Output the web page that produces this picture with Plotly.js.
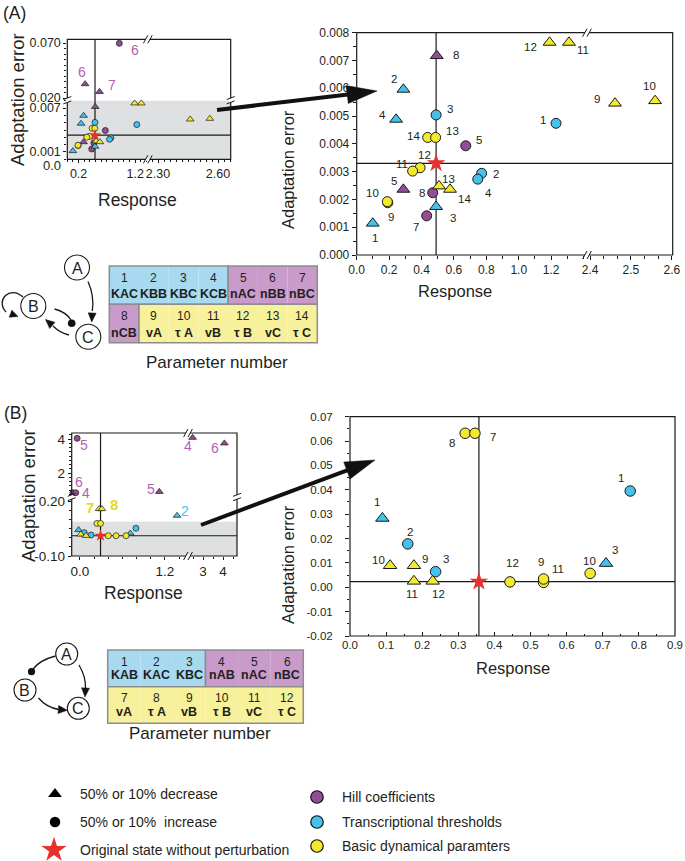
<!DOCTYPE html>
<html>
<head>
<meta charset="utf-8">
<script src="https://cdn.plot.ly/plotly-3.0.1.min.js"></script>
<style>
html, body { margin: 0; padding: 0; background: #fff; }
#plot { width: 685px; height: 861px; }
</style>
</head>
<body>
<div id="plot"></div>
<script>
// ---------- parameter tables ----------
const aParamNum  = [1, 2, 3, 4, 5, 6, 7, 8, 9, 10, 11, 12, 13, 14];
const aParamName = ["KAC", "KBB", "KBC", "KCB", "nAC", "nBB", "nBC", "nCB", "vA", "τ A", "vB", "τ B", "vC", "τ C"];
const aParamCat  = ["thr", "thr", "thr", "thr", "hill", "hill", "hill", "hill", "basic", "basic", "basic", "basic", "basic", "basic"];

const bParamNum  = [1, 2, 3, 4, 5, 6, 7, 8, 9, 10, 11, 12];
const bParamName = ["KAB", "KAC", "KBC", "nAB", "nAC", "nBC", "vA", "τ A", "vB", "τ B", "vC", "τ C"];
const bParamCat  = ["thr", "thr", "thr", "hill", "hill", "hill", "basic", "basic", "basic", "basic", "basic", "basic"];

// ---------- panel A, zoomed scatter ----------
const aParam = [8, 2, 4, 3, 14, 13, 5, 12, 11, 2, 4, 13, 14, 5, 8, 9, 10, 3, 7, 1, 1, 12, 11, 9, 10];
const aDir   = ["dec", "dec", "dec", "inc", "inc", "inc", "inc", "inc", "inc", "inc", "inc", "dec", "dec", "dec",
                "inc", "inc", "inc", "dec", "inc", "dec", "inc", "dec", "dec", "dec", "dec"];
const aResp  = [0.494, 0.288, 0.243, 0.490, 0.438, 0.487, 0.673, 0.391, 0.345, 0.771, 0.747, 0.508, 0.576, 0.288,
                0.469, 0.192, 0.189, 0.490, 0.432, 0.099, 1.230, 1.190, 1.310, 2.461, 2.559];
const aErr   = [0.00717, 0.00596, 0.00488, 0.00504, 0.00423, 0.00423, 0.00393, 0.00314, 0.00302, 0.00294, 0.00273,
                0.00248, 0.00236, 0.00236, 0.00224, 0.00188, 0.00192, 0.00174, 0.00141, 0.00114, 0.00474, 0.00765,
                0.00765, 0.00546, 0.00555];
const aOrig  = [0.49, 0.0033];   // original state (response, error)

// panel A, points only seen in the zoomed-out inset
const aOutParam = [6, 6, 7];
const aOutDir   = ["inc", "dec", "dec"];
const aOutResp  = [0.92, 0.315, 0.57];
const aOutErr   = [0.0697, 0.0327, 0.0257];

// ---------- panel B, zoomed scatter ----------
const bParam = [8, 7, 1, 1, 2, 10, 9, 3, 11, 12, 12, 11, 9, 10, 3];
const bDir   = ["inc", "inc", "inc", "dec", "inc", "dec", "dec", "inc", "dec", "dec", "inc", "inc", "inc", "inc", "dec"];
const bResp  = [0.319, 0.346, 0.776, 0.0896, 0.160, 0.111, 0.177, 0.237, 0.177, 0.229, 0.443, 0.536, 0.536, 0.665, 0.709];
const bErr   = [0.0632, 0.0632, 0.0395, 0.0283, 0.0178, 0.0089, 0.0089, 0.0064, 0.0025, 0.0025, 0.0022, 0.0020, 0.0034, 0.0057, 0.0098];
const bOrig  = [0.357, 0.0023];

// panel B, zoomed-out inset (read on its own axes)
const bOutParam = [5, 6, 4, 5, 4, 6, 2, 7, 8, 8, 7, 1, 10, 2, 9, 3, 12, 11, 10, 3, 1];
const bOutDir   = ["inc", "inc", "inc", "dec", "dec", "dec", "dec", "dec", "dec", "inc", "inc", "dec", "dec", "inc",
                   "dec", "inc", "inc", "inc", "inc", "dec", "inc"];
const bOutResp  = [-0.04, -0.10, -0.06, 1.12, 2.48, 4.07, 1.37, 0.27, 0.31, 0.24, 0.29, -0.02, 0.01, 0.06, 0.085,
                   0.155, 0.40, 0.51, 0.65, 0.71, 0.79];
const bOutErr   = [4.04, 0.84, 0.84, 0.90, 4.08, 3.75, 0.123, 0.16, 0.16, 0.08, 0.08, 0.044, 0.02, 0.029, 0.012,
                   0.016, 0.012, 0.012, 0.012, 0.025, 0.053];
const bOutShown = [true, true, true, true, true, true, true, true, true, false, false, false, false, false, false,
                   false, false, false, false, false, false];
const bOutOrig  = [0.29, 0.012];

const aXTicks = [0, 0.2, 0.4, 0.6, 0.8, 1.0, 1.2];
const bYTicks = [-0.02, -0.01, 0.00, 0.01, 0.02, 0.03, 0.04, 0.05, 0.06, 0.07];
const bYText  = ["-0.02", "-0.01", "0.00", "0.01", "0.02", "0.03", "0.04", "0.05", "0.06", "0.07"];

// ---------- legend entries ----------
const keyText  = ["50% or 10% decrease", "50% or 10%\u00a0 increase", "Original state without perturbation"];
const catNames = ["Hill coefficients", "Transcriptional thresholds", "Basic dynamical paramters"];
const catOrder = ["hill", "thr", "basic"];

// ---------- label offsets (pixels, dx right / dy down) ----------
const aShift = [[19,-1],[-9,-10],[-14,-4],[14,-6],[-14,-1],[17,-6],[13,-6],[4,-13],[-11,-7],[14,1],[11,14],[9,-7],
                [14,10],[-9,-8],[-11,0],[3,14],[-15,-9],[17,11],[-11,11],[2,15],[-13,-3],[-19,5],[14,8],[-18,-4],[-6,-15]];
const aOutShift = [[16,7],[-3,-12],[12,-7]];
const bShift = [[-13,10],[18,4],[-9,-13],[-5,-16],[2,-12],[-12,-6],[11,-7],[10,-13],[-2,13],[6,13],[3,-19],[14,-13],
                [-3,-17],[-1,-12],[9,-13]];
const bOutShift = [[7,7],[6,-11],[10,0],[-8,-3],[-5,8],[-9,5],[8,-5],[-9,-1],[12,-4]];

// ---------- helpers ----------
const W = 685, H = 861;
const px = v => v / W;
const py = v => 1 - v / H;
const domX = (a, b) => [a / W, b / W];
const domY = (top, bot) => [1 - bot / H, 1 - top / H];

const FONT = "Liberation Sans, Arial, Helvetica, sans-serif";
const INK = "#231f20";
const catFill = { hill: "#934d92", thr: "#45c1ec", basic: "#f3ea2e" };
const catText = { hill: "#b35fb1", thr: "#4cc3ec", basic: "#e4dc22" };
const cellFill = { hill: "#c99bcb", thr: "#a7daf0", basic: "#f8f19b" };
const symbolOf = { dec: "triangle-up", inc: "circle" };

const traces = [], shapes = [], annotations = [];

function addPoints(xs, ys, params, dirs, cats, xa, ya, size, keep) {
  ["hill", "thr", "basic"].forEach(c => ["dec", "inc"].forEach(d => {
    const idx = xs.map((_, i) => i).filter(i => cats[params[i] - 1] === c && dirs[i] === d && keep(i));
    if (!idx.length) return;
    traces.push({
      type: "scatter", mode: "markers", xaxis: xa, yaxis: ya, showlegend: false, cliponaxis: false, hoverinfo: "skip",
      x: idx.map(i => xs[i]), y: idx.map(i => ys[i]),
      marker: { symbol: symbolOf[d], size: d === "dec" ? size * 1.12 : size, color: catFill[c], opacity: 1,
                line: { color: "#1a1a1a", width: size > 8 ? 1 : 0.7 } }
    });
  }));
}

function addStar(pt, xa, ya, size) {
  traces.push({ type: "scatter", mode: "markers", xaxis: xa, yaxis: ya, showlegend: false, cliponaxis: false,
    hoverinfo: "skip", x: [pt[0]], y: [pt[1]], marker: { symbol: "star", size: size, color: "#e8302c", opacity: 1, line: { width: 0 } } });
}

function addLabels(xs, ys, texts, shifts, xaOf, ya, fontOf, keep) {
  let k = 0;
  xs.forEach((x, i) => {
    if (!keep(i)) return;
    const s = shifts[k++];
    annotations.push({ xref: xaOf(i), yref: ya, x: x, y: ys[i], text: String(texts[i]), showarrow: false,
      xanchor: "center", yanchor: "middle", xshift: s[0], yshift: -s[1], font: fontOf(i) });
  });
}

function text(x, y, t, size, extra) {
  annotations.push(Object.assign({ xref: "paper", yref: "paper", x: px(x), y: py(y), text: t, showarrow: false,
    xanchor: "center", yanchor: "middle", font: { family: FONT, size: size, color: INK } }, extra || {}));
}

function frame(x0, y0, x1, y1) {
  shapes.push({ type: "rect", xref: "paper", yref: "paper", x0: px(x0), y0: py(y0), x1: px(x1), y1: py(y1),
    line: { color: "#1a1a1a", width: 1.2 }, fillcolor: "rgba(0,0,0,0)", layer: "above" });
}

function line(x0, y0, x1, y1, w, col) {
  shapes.push({ type: "line", xref: "paper", yref: "paper", x0: px(x0), y0: py(y0), x1: px(x1), y1: py(y1),
    line: { color: col || "#1a1a1a", width: w }, layer: "above" });
}

function whiteBox(x0, y0, x1, y1) {
  shapes.push({ type: "rect", xref: "paper", yref: "paper", x0: px(x0), y0: py(y0), x1: px(x1), y1: py(y1),
    fillcolor: "#ffffff", line: { width: 0 }, layer: "above" });
}

function breakX(x, y) {
  whiteBox(x - 2, y - 1.5, x + 2, y + 1.5);
  [-2.2, 2.2].forEach(o => line(x + o - 2.2, y + 4, x + o + 2.2, y - 4, 1));
}

function breakY(x, y) {
  whiteBox(x - 1.5, y - 2, x + 1.5, y + 2);
  [-2.2, 2.2].forEach(o => line(x - 4, y + o + 1.5, x + 4, y + o - 1.5, 1));
}

function head(tip, from, len, half) {
  const dx = tip[0] - from[0], dy = tip[1] - from[1], L = Math.hypot(dx, dy);
  const ux = dx / L, uy = dy / L;
  const bx = tip[0] - ux * len, by = tip[1] - uy * len;
  const p1 = [bx - uy * half, by + ux * half], p2 = [bx + uy * half, by - ux * half];
  shapes.push({ type: "path", xref: "paper", yref: "paper", layer: "above",
    path: `M${px(tip[0])},${py(tip[1])} L${px(p1[0])},${py(p1[1])} L${px(p2[0])},${py(p2[1])} Z`,
    fillcolor: "#111", line: { color: "#111", width: 0.5 } });
  return [bx, by];
}

function bigArrow(tail, tip) {
  const base = head(tip, tail, 30, 9);
  line(tail[0], tail[1], base[0] + (tip[0] - base[0]) * 0.1, base[1] + (tip[1] - base[1]) * 0.1, 4, "#111");
}

function curve(pts, w) {
  const p = pts.map(q => `${px(q[0])},${py(q[1])}`);
  const path = pts.length === 3 ? `M${p[0]} Q${p[1]} ${p[2]}` : `M${p[0]} C${p[1]} ${p[2]} ${p[3]}`;
  shapes.push({ type: "path", xref: "paper", yref: "paper", path: path, line: { color: "#1a1a1a", width: w || 1.3 }, layer: "above" });
}

function node(x, y, r, t) {
  shapes.push({ type: "circle", xref: "paper", yref: "paper", x0: px(x - r), x1: px(x + r), y0: py(y + r), y1: py(y - r),
    line: { color: "#1a1a1a", width: 1.1 }, fillcolor: "#fff", layer: "above" });
  text(x, y + 0.5, t, 16);
}

function dot(x, y, r) {
  shapes.push({ type: "circle", xref: "paper", yref: "paper", x0: px(x - r), x1: px(x + r), y0: py(y + r), y1: py(y - r),
    line: { color: "#111", width: 0 }, fillcolor: "#111", layer: "above" });
}

function table(nums, names, cats, perRow, left, right, top, bottom, numDy, nameDy) {
  const cw = (right - left) / perRow, rh = (bottom - top) / 2;
  for (let r = 0; r < 2; r++) {
    const y0 = top + r * rh, y1 = y0 + rh;
    let runStart = 0;
    for (let c = 0; c < perRow; c++) {
      const i = r * perRow + c;
      shapes.push({ type: "rect", xref: "paper", yref: "paper", x0: px(left + c * cw), x1: px(left + (c + 1) * cw),
        y0: py(y1), y1: py(y0), fillcolor: cellFill[cats[i]], line: { width: 0 }, layer: "above" });
      const cx = left + (c + 0.5) * cw;
      text(cx, y0 + numDy, String(nums[i]), 12);
      text(cx, y0 + nameDy, names[i], 12.5, { font: { family: FONT, size: 12.5, color: INK, weight: "bold" } });
      const last = c === perRow - 1 || cats[i + 1] !== cats[i];
      if (last) {
        shapes.push({ type: "rect", xref: "paper", yref: "paper", x0: px(left + runStart * cw), x1: px(left + (c + 1) * cw),
          y0: py(y1), y1: py(y0), fillcolor: "rgba(0,0,0,0)", line: { color: "#8d8d8d", width: 1.5 }, layer: "above" });
        runStart = c + 1;
      }
    }
  }
}

function axis(domain, range, extra) {
  return Object.assign({
    domain: domain, range: range, showgrid: false, zeroline: false, showline: false, fixedrange: true,
    ticks: "outside", ticklen: 4, tickwidth: 1, tickcolor: "#1a1a1a",
    tickfont: { family: FONT, size: 12, color: INK }
  }, extra);
}
const minor = (o) => Object.assign({ ticks: "outside", ticklen: 2.5, tickwidth: 1, tickcolor: "#1a1a1a", showgrid: false }, o);

// ---------- panel A ----------
const segOf = i => aResp[i] > 2 ? "x2" : "x";
shapes.push({ type: "line", xref: "x", yref: "y domain", x0: aOrig[0], x1: aOrig[0], y0: 0, y1: 1, line: { color: "#1a1a1a", width: 1.2 }, layer: "below" });
shapes.push({ type: "line", xref: "paper", yref: "y", x0: px(356.7), x1: px(672.7), y0: aOrig[1], y1: aOrig[1], line: { color: "#1a1a1a", width: 1.2 }, layer: "below" });
addPoints(aResp, aErr, aParam, aDir, aParamCat, "x", "y", 10, i => aResp[i] < 2);
addPoints(aResp, aErr, aParam, aDir, aParamCat, "x2", "y", 10, i => aResp[i] > 2);
addStar(aOrig, "x", "y", 14);
addLabels(aResp, aErr, aParam, aShift, segOf, "y", () => ({ family: FONT, size: 11.5, color: INK }), () => true);
frame(356.7, 32.7, 672.7, 255);
breakX(587, 32.7); breakX(587, 255);

// inset A
shapes.push({ type: "rect", xref: "paper", yref: "paper", x0: px(67.3), x1: px(230.7), y0: py(159.3), y1: py(100.7), fillcolor: "#dfe0e1", line: { width: 0 }, layer: "below" });
shapes.push({ type: "line", xref: "x3", yref: "paper", x0: aOrig[0], x1: aOrig[0], y0: py(159.3), y1: py(39.3), line: { color: "#1a1a1a", width: 1.2 }, layer: "below" });
shapes.push({ type: "line", xref: "paper", yref: "y2", x0: px(67.3), x1: px(230.7), y0: aOrig[1], y1: aOrig[1], line: { color: "#1a1a1a", width: 1.2 }, layer: "below" });
addPoints(aResp, aErr, aParam, aDir, aParamCat, "x3", "y2", 6, i => aResp[i] < 2);
addPoints(aResp, aErr, aParam, aDir, aParamCat, "x4", "y2", 6, i => aResp[i] > 2);
addPoints(aOutResp, aOutErr, aOutParam, aOutDir, aParamCat, "x3", "y3", 6, () => true);
addStar(aOrig, "x3", "y2", 9);
addLabels(aOutResp, aOutErr, aOutParam, aOutShift, () => "x3", "y3",
  i => ({ family: FONT, size: 14, color: catText[aParamCat[aOutParam[i] - 1]] }), () => true);
frame(67.3, 39.3, 230.7, 159.3);
breakX(147.8, 39.3); breakX(147.8, 159.3); breakY(67.3, 100.2); breakY(230.7, 100.2);
text(52, 166, "0.0", 13);

// ---------- panel B ----------
shapes.push({ type: "line", xref: "x7", yref: "y6 domain", x0: bOrig[0], x1: bOrig[0], y0: 0, y1: 1, line: { color: "#1a1a1a", width: 1.2 }, layer: "below" });
shapes.push({ type: "line", xref: "x7 domain", yref: "y6", x0: 0, x1: 1, y0: bOrig[1], y1: bOrig[1], line: { color: "#1a1a1a", width: 1.2 }, layer: "below" });
addPoints(bResp, bErr, bParam, bDir, bParamCat, "x7", "y6", 10.5, () => true);
addStar(bOrig, "x7", "y6", 14);
addLabels(bResp, bErr, bParam, bShift, () => "x7", "y6", () => ({ family: FONT, size: 11.5, color: INK }), () => true);
frame(350, 416.7, 675, 636);

// inset B
const bOutX = i => bOutResp[i] > 2 ? "x6" : "x5";
const bOutY = i => bOutErr[i] > 0.5 ? "y5" : "y4";
shapes.push({ type: "rect", xref: "paper", yref: "paper", x0: px(71.7), x1: px(237), y0: py(556), y1: py(521.7), fillcolor: "#dfe0e1", line: { width: 0 }, layer: "below" });
shapes.push({ type: "line", xref: "x5", yref: "paper", x0: bOutOrig[0], x1: bOutOrig[0], y0: py(556), y1: py(433), line: { color: "#1a1a1a", width: 1.2 }, layer: "below" });
shapes.push({ type: "line", xref: "paper", yref: "y4", x0: px(71.7), x1: px(237), y0: bOutOrig[1], y1: bOutOrig[1], line: { color: "#1a1a1a", width: 1.2 }, layer: "below" });
[["x5", "y4"], ["x5", "y5"], ["x6", "y4"], ["x6", "y5"]].forEach(([xa, ya]) =>
  addPoints(bOutResp, bOutErr, bOutParam, bOutDir, bParamCat, xa, ya, 6, i => bOutX(i) === xa && bOutY(i) === ya));
addStar(bOutOrig, "x5", "y4", 9);
bOutResp.forEach((x, i) => {
  if (!bOutShown[i]) return;
  const c = bParamCat[bOutParam[i] - 1];
  const s = bOutShift[i];
  annotations.push({ xref: bOutX(i), yref: bOutY(i), x: x, y: bOutErr[i], text: String(bOutParam[i]), showarrow: false,
    xanchor: "center", yanchor: "middle", xshift: s[0], yshift: -s[1],
    font: c === "basic" ? { family: FONT, size: 15, color: catText[c], weight: "bold" } : { family: FONT, size: 14, color: catText[c] } });
});
frame(71.7, 433, 237, 556);
breakX(188, 433); breakX(188, 556); breakY(71.7, 497); breakY(237, 497);

// ---------- zoom arrows ----------
bigArrow([217, 110], [377, 91]);
bigArrow([201, 525], [375, 460]);

// ---------- titles ----------
text(14, 13, "(A)", 17.5);
text(16, 413, "(B)", 17.5);
text(17, 100, "Adaptation error", 18.5, { textangle: -90 });
text(137, 200, "Response", 17.5);
text(288, 170, "Adaptation error", 16.5, { textangle: -90 });
text(455, 291, "Response", 16.5);
text(217, 362, "Parameter number", 17);
text(28, 496, "Adaptation error", 18.5, { textangle: -90 });
text(143, 593, "Response", 17.5);
text(288, 565, "Adaptation error", 16.5, { textangle: -90 });
text(513, 668, "Response", 16.5);
text(200, 733, "Parameter number", 17);

// ---------- tables ----------
table(aParamNum, aParamName, aParamCat, 7, 109.3, 317.3, 266, 342.7, 12, 28.5);
table(bParamNum, bParamName, bParamCat, 6, 107.7, 303.3, 650, 723.3, 11.7, 25);

// ---------- network sketches ----------
// A: A -> C, B -> B, C -> B, B -| C
curve([[23, 297], [10, 285], [-5, 300], [6, 312]]);
head([18, 316.5], [6, 312], 8, 3.8);
curve([[88, 281.5], [94.5, 296], [92.3, 311]]);
head([91.7, 322], [92.3, 311], 9, 4);
curve([[69, 335], [60, 333], [53, 326]]);
head([45.5, 319.5], [53, 326], 9, 4);
curve([[54.5, 309], [66, 312], [71, 320]]);
dot(71.7, 323.3, 3.8);
node(77, 267.5, 12.5, "A");
node(33.3, 306, 12.5, "B");
node(88.3, 336.7, 12.5, "C");
// B: A -> C, A -| B, B -> C
curve([[79, 665], [86, 677], [85.5, 688]]);
head([85, 697], [85.5, 688], 9, 4);
curve([[55.5, 656], [40, 660], [33, 669]]);
dot(31.5, 671.7, 3.6);
curve([[38.5, 698], [46, 707], [58.5, 709.5]]);
head([67.3, 710.3], [58.5, 709.5], 9, 4);
node(66.7, 654, 11, "A");
node(25, 690, 11, "B");
node(78.3, 708.3, 11, "C");

// ---------- key (drawn on a page-sized pixel axis) ----------
const keyRowsLeft = [794, 822, 850], keyRowsRight = [797, 822, 846];
traces.push({ type: "scatter", mode: "markers", xaxis: "x8", yaxis: "y7", showlegend: false, hoverinfo: "skip", cliponaxis: false,
  x: [55, 55, 54], y: keyRowsLeft,
  marker: { symbol: ["triangle-up", "circle", "star"], size: [12, 10.5, 19], color: ["#000", "#000", "#e8302c"], opacity: 1, line: { width: 0 } } });
traces.push({ type: "scatter", mode: "markers", xaxis: "x8", yaxis: "y7", showlegend: false, hoverinfo: "skip", cliponaxis: false,
  x: [317, 317, 317], y: keyRowsRight,
  marker: { symbol: "circle", size: 12.5, color: catOrder.map(c => catFill[c]), opacity: 1, line: { color: "#111", width: 1.2 } } });
keyText.forEach((t, i) => text(78, keyRowsLeft[i], t, 14, { xanchor: "left" }));
catNames.forEach((t, i) => text(340, keyRowsRight[i], t, 14, { xanchor: "left" }));

// ---------- layout ----------
const layout = {
  width: W, height: H, margin: { l: 0, r: 0, t: 0, b: 0 },
  paper_bgcolor: "#fff", plot_bgcolor: "rgba(0,0,0,0)", showlegend: false,
  // panel A main
  xaxis: axis(domX(356.7, 586), [0, 1.415], { anchor: "y", tickvals: aXTicks, tickformat: ".1f", minor: minor({ dtick: 0.1 }) }),
  xaxis2: axis(domX(588, 672.7), [2.395, 2.602], { anchor: "y", tickvals: [2.4, 2.5, 2.6], ticktext: ["2.4", "2.5", "2.6"],
    minor: minor({ tickvals: [2.4333, 2.4667, 2.5333, 2.5667] }) }),
  yaxis: axis(domY(32.7, 255), [0, 0.008], { anchor: "x", dtick: 0.001, tickformat: ".3f", minor: minor({ dtick: 0.0005 }) }),
  // inset A
  xaxis3: axis(domX(67.3, 147.3), [0, 1.415], { anchor: "y2", tickvals: [0.2, 1.2], ticktext: ["0.2", "1.2"], ticklen: 3,
    tickfont: { family: FONT, size: 12.5, color: INK }, minor: minor({ dtick: 0.1, ticklen: 2 }) }),
  xaxis4: axis(domX(148.3, 230.7), [2.2515, 2.6635], { anchor: "y2", tickvals: [2.3, 2.6], ticktext: ["2.30", "2.60"], ticklen: 3,
    tickfont: { family: FONT, size: 12.5, color: INK }, minor: minor({ tick0: 2.3, dtick: 0.03, ticklen: 2 }) }),
  yaxis2: axis(domY(100.7, 159.3), [0, 0.008], { anchor: "x3", tickvals: [0.001, 0.007], ticktext: ["0.001", "0.007"], ticklen: 3,
    tickfont: { family: FONT, size: 12.5, color: INK }, minor: minor({ dtick: 0.001, ticklen: 2 }) }),
  yaxis3: axis(domY(39.3, 99.7), [0.01845, 0.07336], { anchor: "x3", tickvals: [0.02, 0.07], ticktext: ["0.020", "0.070"], ticklen: 3,
    tickfont: { family: FONT, size: 12.5, color: INK }, minor: minor({ tick0: 0.02, dtick: 0.005, ticklen: 2 }) }),
  // inset B
  xaxis5: axis(domX(71.7, 187.5), [-0.117, 1.518], { anchor: "y4", tickvals: [0, 1.2], ticktext: ["0.0", "1.2"], ticklen: 3,
    tickfont: { family: FONT, size: 13.5, color: INK }, minor: minor({ dtick: 0.2, ticklen: 2 }) }),
  xaxis6: axis(domX(188.5, 237), [2.275, 4.7], { anchor: "y4", tickvals: [3, 4], ticktext: ["3", "4"], ticklen: 3,
    tickfont: { family: FONT, size: 13.5, color: INK }, minor: minor({ dtick: 0.5, ticklen: 2 }) }),
  yaxis4: axis(domY(497.5, 556), [-0.10, 0.2232], { anchor: "x5", tickvals: [-0.1, 0.2], ticktext: ["-0.10", "0.20"], ticklen: 3,
    tickfont: { family: FONT, size: 13.5, color: INK }, minor: minor({ tick0: -0.1, dtick: 0.05, ticklen: 2 }) }),
  yaxis5: axis(domY(433, 496.5), [0.618, 4.353], { anchor: "x5", tickvals: [2, 4], ticktext: ["2", "4"], ticklen: 3,
    tickfont: { family: FONT, size: 13.5, color: INK }, minor: minor({ dtick: 0.25, ticklen: 2 }) }),
  // panel B main
  xaxis7: axis(domX(350, 675), [0, 0.9], { anchor: "y6", tick0: 0, dtick: 0.1, tickformat: ".1f", ticks: "inside",
    tickfont: { family: FONT, size: 11.5, color: INK }, minor: minor({ dtick: 0.05, ticks: "inside" }) }),
  yaxis6: axis(domY(416.7, 636), [-0.02, 0.07], { anchor: "x7", tickvals: bYTicks, ticktext: bYText, ticklabelstandoff: 10,
    tickfont: { family: FONT, size: 11.5, color: INK }, minor: minor({ dtick: 0.005 }) }),
  // page-sized pixel axis for the key
  xaxis8: { domain: [0, 1], range: [0, W], visible: false, fixedrange: true, anchor: "y7" },
  yaxis7: { domain: [0, 1], range: [H, 0], visible: false, fixedrange: true, anchor: "x8" },
  shapes: shapes,
  annotations: annotations
};

Plotly.newPlot("plot", traces, layout, { staticPlot: true, displayModeBar: false });
</script>
</body>
</html>
